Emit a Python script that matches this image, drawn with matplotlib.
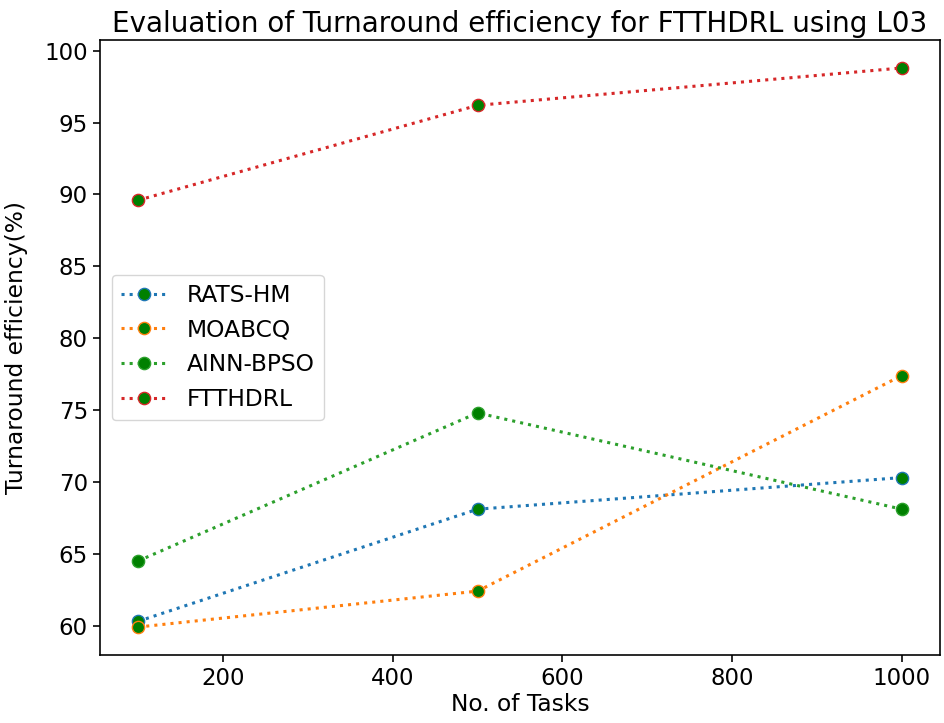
import matplotlib
matplotlib.use("Agg")
import matplotlib.pyplot as plt

tasks = [100, 500, 1000]
rats_hm = [60.3, 68.1, 70.3]
moabcq = [59.9, 62.4, 77.4]
ainn_bpso = [64.5, 74.8, 68.1]
ftthdrl = [89.6, 96.2, 98.8]

series = [("RATS-HM", rats_hm), ("MOABCQ", moabcq),
          ("AINN-BPSO", ainn_bpso), ("FTTHDRL", ftthdrl)]

s = 1.47
plt.rcParams['font.size'] = 16.8

fig = plt.figure(figsize=(9.44, 7.23), dpi=100)
ax = fig.add_axes([100 / 944, 1 - 655 / 723, 840 / 944, 615 / 723])

for name, vals in series:
    ax.plot(tasks, vals, linestyle=':', marker='o', markerfacecolor='green',
            label=name, linewidth=1.5 * s, markersize=6 * s)

ax.set_title("Evaluation of Turnaround efficiency for FTTHDRL using L03", fontsize=20)
ax.set_xlabel("No. of Tasks", labelpad=2)
ax.set_ylabel("Turnaround efficiency(%)", labelpad=12)
ax.tick_params(labelsize=16.5)
ax.legend(loc='center left')
for sp in ax.spines.values():
    sp.set_linewidth(0.8 * s)
ax.tick_params(width=0.8 * s, length=3.5 * s)

fig.savefig("out.png", dpi=100)
